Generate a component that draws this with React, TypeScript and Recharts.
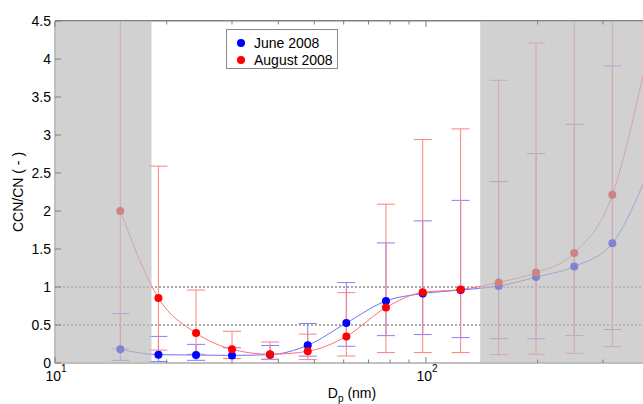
import React from "react";
import {
  ComposedChart,
  XAxis,
  YAxis,
  Scatter,
  Line,
  ErrorBar,
  ReferenceArea,
  ReferenceLine,
} from "recharts";

// particle diameters (nm)
const diameters = [15, 19, 24, 30, 38, 48, 61, 78, 98, 124, 157, 198, 251, 318];

const juneRatio = [0.18, 0.11, 0.105, 0.1, 0.11, 0.233, 0.526, 0.816, 0.913, 0.96, 1.013, 1.13, 1.27, 1.575];
const juneLow = [0.035, 0.02, 0.035, 0.06, 0.05, 0.09, 0.22, 0.36, 0.374, 0.334, 0.32, 0.32, 0.36, 0.44];
const juneHigh = [0.65, 0.35, 0.245, 0.2, 0.23, 0.52, 1.058, 1.58, 1.87, 2.14, 2.387, 2.755, 3.14, 3.91];

const augRatio = [2.0, 0.855, 0.395, 0.18, 0.115, 0.154, 0.35, 0.73, 0.93, 0.966, 1.06, 1.19, 1.447, 2.215];
const augLow = [0.185, 0.17, 0.115, 0.06, 0.045, 0.045, 0.092, 0.137, 0.137, 0.137, 0.11, 0.115, 0.128, 0.215];
const augHigh = [5.0, 2.59, 0.96, 0.417, 0.276, 0.38, 0.926, 2.09, 2.94, 3.08, 3.72, 4.21, 5.0, 5.0];

// fitted curves run on past the last point to the right edge
const curveEndX = 384.6;
const juneCurveEnd = 2.35;
const augCurveEnd = 3.78;

const xDomain = [10, 384.6];
const yDomain = [0, 4.5];
const yTicks = [0, 0.5, 1, 1.5, 2, 2.5, 3, 3.5, 4, 4.5];
const xTicks = [10, 20, 30, 40, 50, 60, 70, 80, 90, 100, 200, 300];
const majorTicks = [10, 100];
const shadedRanges = [
  [10, 18.2],
  [140, 384.6],
];
const guideLevels = [0.5, 1];

const legendItems = [
  { name: "June 2008", color: "#0000ff" },
  { name: "August 2008", color: "#ff0000" },
];

const FONT = "'Liberation Sans', Arial, sans-serif";
const AXIS_GRAY = "#808080";

const toPoints = (ys: number[], lo: number[], hi: number[]) =>
  diameters.map((x, i) => ({ x, y: ys[i], err: [ys[i] - lo[i], hi[i] - ys[i]] }));

const junePoints = toPoints(juneRatio, juneLow, juneHigh);
const augPoints = toPoints(augRatio, augLow, augHigh);
const juneCurve = [...junePoints.map((p) => ({ x: p.x, y: p.y })), { x: curveEndX, y: juneCurveEnd }];
const augCurve = [...augPoints.map((p) => ({ x: p.x, y: p.y })), { x: curveEndX, y: augCurveEnd }];

const YTick = (props: any) => {
  const { x, y, payload } = props;
  return (
    <g>
      <line x1={x} x2={x + 6} y1={y} y2={y} stroke={AXIS_GRAY} />
      <text x={x - 4} y={y} dy={5} textAnchor="end" fontSize={14} fontFamily={FONT} fill="#000">
        {payload.value}
      </text>
    </g>
  );
};

const BottomTick = (props: any) => {
  const { x, y, payload } = props;
  const major = majorTicks.includes(payload.value);
  return (
    <g>
      <line x1={x} x2={x} y1={y} y2={y - (major ? 6 : 3.5)} stroke={AXIS_GRAY} />
      {major && (
        <text x={x + 1} y={y + 18} textAnchor="middle" fontSize={14} fontFamily={FONT} fill="#000">
          10
          <tspan dy={-9} fontSize={10}>
            {Math.round(Math.log10(payload.value))}
          </tspan>
        </text>
      )}
    </g>
  );
};

const TopTick = (props: any) => {
  const { x, y, payload } = props;
  const major = majorTicks.includes(payload.value);
  return <line x1={x} x2={x} y1={y} y2={y + (major ? 6 : 3.5)} stroke={AXIS_GRAY} />;
};

const XLabel = (props: any) => {
  const { viewBox } = props;
  const cx = viewBox.x + viewBox.width / 2 + 3;
  return (
    <text x={cx} y={398} textAnchor="middle" fontSize={14} fontFamily={FONT} fill="#000">
      D
      <tspan dy={4} fontSize={10}>
        p
      </tspan>
      <tspan dy={-4}> (nm)</tspan>
    </text>
  );
};

const YLabel = () => (
  <text
    x={18}
    y={192}
    transform="rotate(-90 18 192)"
    textAnchor="middle"
    dominantBaseline="central"
    fontSize={14}
    fontFamily={FONT}
    fill="#000"
  >
    CCN/CN ( - )
  </text>
);

const Dot = (color: string) => (props: any) => {
  const { cx, cy } = props;
  return <circle cx={cx} cy={cy} r={4} fill={color} />;
};

export default function App() {
  return (
    <div style={{ position: "absolute", left: 0, top: 0, width: 643, height: 404, background: "#fff" }}>
      <ComposedChart width={643} height={404} margin={{ top: 20, right: 0, bottom: 0, left: 0 }}>
        <XAxis
          dataKey="x"
          type="number"
          scale="log"
          domain={xDomain}
          allowDataOverflow
          ticks={xTicks}
          interval={0}
          height={41}
          tickSize={0}
          tickMargin={0}
          tick={<BottomTick />}
          axisLine={{ stroke: AXIS_GRAY }}
          label={<XLabel />}
        />
        <XAxis
          xAxisId="top"
          orientation="top"
          dataKey="x"
          type="number"
          scale="log"
          domain={xDomain}
          allowDataOverflow
          ticks={xTicks}
          interval={0}
          height={1}
          tickSize={0}
          tickMargin={0}
          tick={<TopTick />}
          axisLine={{ stroke: AXIS_GRAY }}
        />
        <YAxis
          dataKey="y"
          type="number"
          domain={yDomain}
          allowDataOverflow
          ticks={yTicks}
          interval={0}
          width={55}
          tickSize={0}
          tickMargin={0}
          tick={<YTick />}
          axisLine={{ stroke: AXIS_GRAY }}
          label={<YLabel />}
        />
        {guideLevels.map((v) => (
          <ReferenceLine key={v} y={v} stroke="#555" strokeDasharray="2 2" />
        ))}
        <Scatter data={junePoints} fill="#0000ff" shape={Dot("#0000ff")} isAnimationActive={false}>
          <ErrorBar dataKey="err" direction="y" width={9} stroke="#8080ff" strokeWidth={1} isAnimationActive={false} />
        </Scatter>
        <Scatter data={augPoints} fill="#ff0000" shape={Dot("#ff0000")} isAnimationActive={false}>
          <ErrorBar dataKey="err" direction="y" width={9} stroke="#ff8080" strokeWidth={1} isAnimationActive={false} />
        </Scatter>
        <Line data={juneCurve} dataKey="y" type="monotone" stroke="#7070ff" strokeWidth={1} dot={false} isAnimationActive={false} />
        <Line data={augCurve} dataKey="y" type="monotone" stroke="#ff7070" strokeWidth={1} dot={false} isAnimationActive={false} />
        {/* invisible series so the top (box) axis gets drawn */}
        <Line xAxisId="top" data={juneCurve} dataKey="y" stroke="none" dot={false} isAnimationActive={false} />
        {shadedRanges.map(([a, b]) => (
          <ReferenceArea
            key={a}
            x1={a}
            x2={b}
            fill="#bcbcbc"
            fillOpacity={0.69}
            stroke="none"
            ifOverflow="hidden"
            zIndex={700}
          />
        ))}
      </ComposedChart>
      {/* error bars that run off the top are cut at the frame */}
      <div
        style={{
          position: "absolute",
          left: 55,
          top: 0,
          width: 588,
          height: 20,
          background: "#fff",
          borderBottom: `1px solid ${AXIS_GRAY}`,
        }}
      />
      <div
        style={{
          position: "absolute",
          left: 226,
          top: 29,
          width: 110,
          height: 38,
          border: "1px solid #888",
          background: "#fff",
          fontFamily: FONT,
          fontSize: 14,
          color: "#000",
        }}
      >
        {legendItems.map((item, i) => (
          <div key={item.name} style={{ position: "absolute", left: 10, top: 4 + i * 17.5, height: 17, display: "flex", alignItems: "center" }}>
            <span style={{ display: "inline-block", width: 8, height: 8, borderRadius: 4, background: item.color, marginRight: 9 }} />
            <span>{item.name}</span>
          </div>
        ))}
      </div>
    </div>
  );
}
